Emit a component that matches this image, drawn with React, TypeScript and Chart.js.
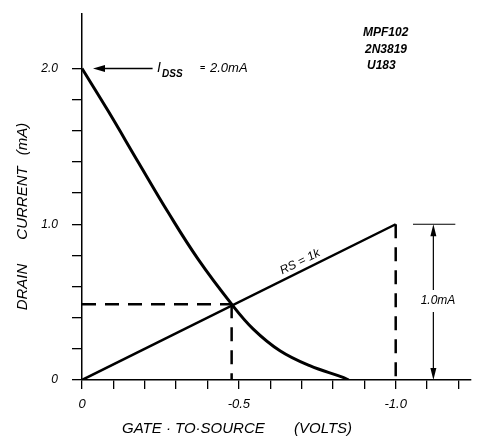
import React, { useEffect, useRef } from "react";
import { Chart, registerables } from "chart.js";

Chart.register(...registerables);

// ---- data (gate-to-source volts, drain current mA) ----
const transferVgs = [0, -0.084, -0.179, -0.275, -0.37, -0.477, -0.546, -0.631, -0.726, -0.832, -0.85];
const transferId = [2.0, 1.725, 1.4, 1.075, 0.776, 0.487, 0.327, 0.188, 0.092, 0.017, 0];
const loadVgs = [0, -1.0];
const loadId = [0, 1.0];
const qVgs = -0.477;
const qId = 0.487;
const idss = 2.0;
const xTickValues = [0, -0.1, -0.2, -0.3, -0.4, -0.5, -0.6, -0.7, -0.8, -0.9, -1.0, -1.1, -1.2];
const xTickLabels = ["0", "", "", "", "", "-0.5", "", "", "", "", "-1.0", "", ""];
const yTickValues = [0, 0.2, 0.4, 0.6, 0.8, 1.0, 1.2, 1.4, 1.6, 1.8, 2.0];
const yTickLabels = ["0", "", "", "", "", "1.0", "", "", "", "", "2.0"];
const devices = ["MPF102", "2N3819", "U183"];

const FONT = "'Liberation Sans', Arial, sans-serif";

function arrowHead(ctx: CanvasRenderingContext2D, tx: number, ty: number, dx: number, dy: number, len: number, hw: number) {
  const bx = tx - dx * len;
  const by = ty - dy * len;
  ctx.beginPath();
  ctx.moveTo(tx, ty);
  ctx.lineTo(bx - dy * hw, by + dx * hw);
  ctx.lineTo(bx + dy * hw, by - dx * hw);
  ctx.closePath();
  ctx.fill();
}

const annotations = {
  id: "annotations",
  afterDatasetsDraw(chart: any) {
    const ctx: CanvasRenderingContext2D = chart.ctx;
    const x = chart.scales.x;
    const y = chart.scales.y;
    ctx.save();
    ctx.fillStyle = "#000";
    ctx.strokeStyle = "#000";

    // IDSS arrow
    const yI = y.getPixelForValue(idss);
    const xA1 = x.getPixelForValue(-0.225);
    const xA2 = x.getPixelForValue(-0.035);
    ctx.lineWidth = 1.5;
    ctx.beginPath();
    ctx.moveTo(xA1, yI);
    ctx.lineTo(xA2 + 8, yI);
    ctx.stroke();
    arrowHead(ctx, xA2, yI, -1, 0, 12, 3.5);

    ctx.textBaseline = "middle";
    ctx.textAlign = "left";
    ctx.font = `italic 14px ${FONT}`;
    ctx.fillText("I", 157, yI);
    ctx.font = `bold italic 10px ${FONT}`;
    ctx.fillText("DSS", 162, yI + 6);
    ctx.font = `bold 9px ${FONT}`;
    ctx.fillText("=", 200, yI);
    ctx.font = `italic 13px ${FONT}`;
    ctx.fillText("2.0mA", 210, yI);

    // device list
    ctx.font = `bold italic 12px ${FONT}`;
    ctx.fillText(devices[0], 363, 33);
    ctx.fillText(devices[1], 365, 50);
    ctx.fillText(devices[2], 367, 66);

    // Rs label along the load line
    const p0x = x.getPixelForValue(loadVgs[0]);
    const p0y = y.getPixelForValue(loadId[0]);
    const p1x = x.getPixelForValue(loadVgs[1]);
    const p1y = y.getPixelForValue(loadId[1]);
    const ang = Math.atan2(p1y - p0y, p1x - p0x);
    ctx.save();
    ctx.translate(300, 262);
    ctx.rotate(ang);
    ctx.textAlign = "center";
    ctx.font = `italic 12px ${FONT}`;
    ctx.fillText("RS = 1k", 0, 0);
    ctx.restore();

    // 1.0mA dimension arrow
    const xd = x.getPixelForValue(-1.12);
    const yTop = y.getPixelForValue(loadId[1]);
    const yBot = y.getPixelForValue(0);
    ctx.lineWidth = 1.2;
    ctx.beginPath();
    ctx.moveTo(x.getPixelForValue(-1.055), yTop);
    ctx.lineTo(x.getPixelForValue(-1.19), yTop);
    ctx.stroke();
    ctx.beginPath();
    ctx.moveTo(xd, yTop + 8);
    ctx.lineTo(xd, 290);
    ctx.moveTo(xd, 312);
    ctx.lineTo(xd, yBot - 8);
    ctx.stroke();
    arrowHead(ctx, xd, yTop, 0, -1, 12, 3);
    arrowHead(ctx, xd, yBot, 0, 1, 12, 3);
    ctx.textAlign = "center";
    ctx.font = `italic 12px ${FONT}`;
    ctx.fillText("1.0mA", 438, 301);

    // axis titles
    ctx.textAlign = "left";
    ctx.font = `italic 15px ${FONT}`;
    ctx.fillText("GATE · TO·SOURCE", 122, 429);
    ctx.fillText("(VOLTS)", 294, 429);

    ctx.save();
    ctx.translate(23, 0);
    ctx.rotate(-Math.PI / 2);
    ctx.textAlign = "center";
    ctx.font = `italic 15px ${FONT}`;
    ctx.fillText("DRAIN", -287, 0);
    ctx.fillText("CURRENT", -203, 0);
    ctx.fillText("(mA)", -139, 0);
    ctx.restore();

    ctx.restore();
  },
};

export default function App() {
  const canvasRef = useRef<HTMLCanvasElement | null>(null);

  useEffect(() => {
    if (!canvasRef.current) return;
    const dashed = { borderColor: "#000", borderWidth: 2.5, borderDash: [14, 9], pointRadius: 0, fill: false };
    const chart = new Chart(canvasRef.current, {
      type: "line",
      data: {
        datasets: [
          {
            data: transferVgs.map((v, i) => ({ x: v, y: transferId[i] })),
            borderColor: "#000",
            borderWidth: 3,
            pointRadius: 0,
            tension: 0.4,
            fill: false,
          },
          {
            data: loadVgs.map((v, i) => ({ x: v, y: loadId[i] })),
            borderColor: "#000",
            borderWidth: 2.5,
            pointRadius: 0,
            fill: false,
          },
          { ...dashed, data: [{ x: 0, y: qId }, { x: qVgs, y: qId }] },
          { ...dashed, data: [{ x: qVgs, y: qId }, { x: qVgs, y: 0 }] },
          { ...dashed, data: [{ x: loadVgs[1], y: loadId[1] }, { x: loadVgs[1], y: 0 }] },
        ] as any,
      },
      options: {
        animation: false,
        responsive: true,
        maintainAspectRatio: false,
        layout: { padding: { top: 14, right: 10, left: 0, bottom: 0 } },
        plugins: { legend: { display: false }, tooltip: { enabled: false }, title: { display: false } },
        scales: {
          x: {
            type: "linear",
            reverse: true,
            min: -1.24,
            max: 0,
            afterBuildTicks: (s: any) => {
              s.ticks = xTickValues.map((v) => ({ value: v }));
            },
            afterFit: (s: any) => {
              s.height = 67;
              s.paddingLeft = 0;
              s.paddingRight = 0;
            },
            ticks: {
              autoSkip: false,
              maxRotation: 0,
              padding: 8,
              color: "#000",
              font: { family: FONT, size: 13, style: "italic" },
              callback: (_v: any, i: number) => xTickLabels[i],
            },
            grid: { drawOnChartArea: false, drawTicks: true, tickLength: 9, color: "#000", lineWidth: 1.3 },
            border: { display: true, color: "#000", width: 1.5 },
          },
          y: {
            type: "linear",
            min: 0,
            max: 2.35,
            afterBuildTicks: (s: any) => {
              s.ticks = yTickValues.map((v) => ({ value: v }));
            },
            afterFit: (s: any) => {
              s.width = 82;
              s.paddingTop = 0;
              s.paddingBottom = 0;
            },
            ticks: {
              autoSkip: false,
              padding: 14,
              color: "#000",
              font: { family: FONT, size: 12, style: "italic" },
              callback: (_v: any, i: number) => yTickLabels[i],
            },
            grid: { drawOnChartArea: false, drawTicks: true, tickLength: 10, color: "#000", lineWidth: 1.3 },
            border: { display: true, color: "#000", width: 1.5 },
          },
        },
      },
      plugins: [annotations],
    });
    return () => chart.destroy();
  }, []);

  return (
    <div style={{ position: "fixed", left: 0, top: 0, width: 481, height: 447, background: "#fff" }}>
      <canvas ref={canvasRef} />
    </div>
  );
}
